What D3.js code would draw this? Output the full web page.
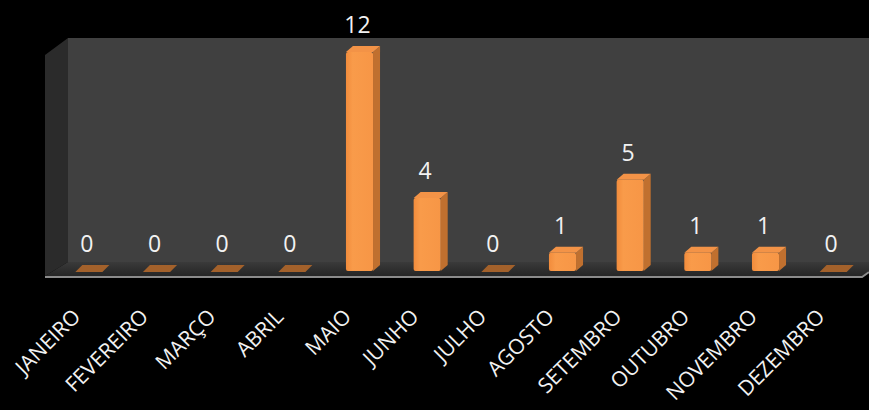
<!DOCTYPE html>
<html>
<head>
<meta charset="utf-8">
<script src="https://cdn.jsdelivr.net/npm/d3@7"></script>
<style>
  body { margin: 0; background: #000; }
  svg { display: block; }
</style>
</head>
<body>
<svg width="869" height="410"></svg>
<script>
const months = ['JANEIRO', 'FEVEREIRO', 'MARÇO', 'ABRIL', 'MAIO', 'JUNHO',
    'JULHO', 'AGOSTO', 'SETEMBRO', 'OUTUBRO', 'NOVEMBRO', 'DEZEMBRO'];
const values = [0, 0, 0, 0, 12, 4, 0, 1, 5, 1, 1, 0];

const svg = d3.select('svg');

const depthX = 7;
const depthY = 6;

const xScale = d3.scaleBand()
    .domain(months)
    .range([55, 867])
    .paddingInner(0.6)
    .paddingOuter(0.3);

const yScale = d3.scaleLinear()
    .domain([0, 12])
    .range([271, 52]);

const bw = xScale.bandwidth();
const y0 = yScale(0);

// walls and floor
const defs = svg.append('defs');
const floorGrad = defs.append('linearGradient')
    .attr('id', 'floorGrad')
    .attr('x1', 0).attr('y1', 0).attr('x2', 0).attr('y2', 1);
floorGrad.append('stop').attr('offset', '0%').attr('stop-color', '#3a3a3a');
floorGrad.append('stop').attr('offset', '100%').attr('stop-color', '#262626');

const frontGrad = defs.append('linearGradient')
    .attr('id', 'frontGrad')
    .attr('x1', 0).attr('y1', 0).attr('x2', 1).attr('y2', 0);
frontGrad.append('stop').attr('offset', '0%').attr('stop-color', '#f28c3c');
frontGrad.append('stop').attr('offset', '25%').attr('stop-color', '#f99b4a');
frontGrad.append('stop').attr('offset', '100%').attr('stop-color', '#f79646');

svg.append('rect')
    .attr('x', 68).attr('y', 38)
    .attr('width', 801).attr('height', 224)
    .attr('fill', '#404040');

svg.append('path')
    .attr('d', 'M45,55 L68,38 L68,262 L45,276 Z')
    .attr('fill', '#2b2b2b');

svg.append('path')
    .attr('d', 'M68,262 L869,262 L869,271 L862,276 L45,276 Z')
    .attr('fill', 'url(#floorGrad)');

svg.append('path')
    .attr('d', 'M45,277 L862,277 L869,272')
    .attr('fill', 'none')
    .attr('stroke', '#8c8c8c')
    .attr('stroke-width', 2);

// bars
const bars = svg.append('g');

months.forEach((m, i) => {
    const v = values[i];
    const x = xScale(m);
    const y = yScale(v);

    if (v === 0) {
        bars.append('path')
            .attr('d', `M${x},${y0 + 1} L${x + depthX},${y0 - depthY} L${x + bw + depthX},${y0 - depthY} L${x + bw},${y0 + 1} Z`)
            .attr('fill', '#a3612b');
        return;
    }

    // side
    bars.append('path')
        .attr('d', `M${x + bw},${y} L${x + bw + depthX},${y - depthY} L${x + bw + depthX},${y0 - depthY} L${x + bw},${y0} Z`)
        .attr('fill', '#c0702f');
    // top
    bars.append('path')
        .attr('d', `M${x},${y} L${x + depthX},${y - depthY} L${x + bw + depthX},${y - depthY} L${x + bw},${y} Z`)
        .attr('fill', '#f39347');
    // front
    bars.append('rect')
        .attr('x', x).attr('y', y)
        .attr('width', bw).attr('height', y0 - y)
        .attr('rx', 2)
        .attr('fill', 'url(#frontGrad)');
});

// value labels
svg.append('g')
    .selectAll('text')
    .data(values)
    .enter()
    .append('text')
    .attr('x', (d, i) => xScale(months[i]) + bw / 2 - 2)
    .attr('y', d => yScale(d) - 19)
    .attr('text-anchor', 'middle')
    .attr('fill', '#f2f2f2')
    .attr('font-family', 'Open Sans, sans-serif')
    .attr('font-size', 23)
    .text(d => d);

// month labels
svg.append('g')
    .selectAll('text')
    .data(months)
    .enter()
    .append('text')
    .attr('transform', m => `translate(${xScale(m) + bw / 2 - 7}, 318) rotate(-45)`)
    .attr('text-anchor', 'end')
    .attr('fill', '#f2f2f2')
    .attr('font-family', 'Open Sans, sans-serif')
    .attr('font-size', 21)
    .text(m => m);
</script>
</body>
</html>
